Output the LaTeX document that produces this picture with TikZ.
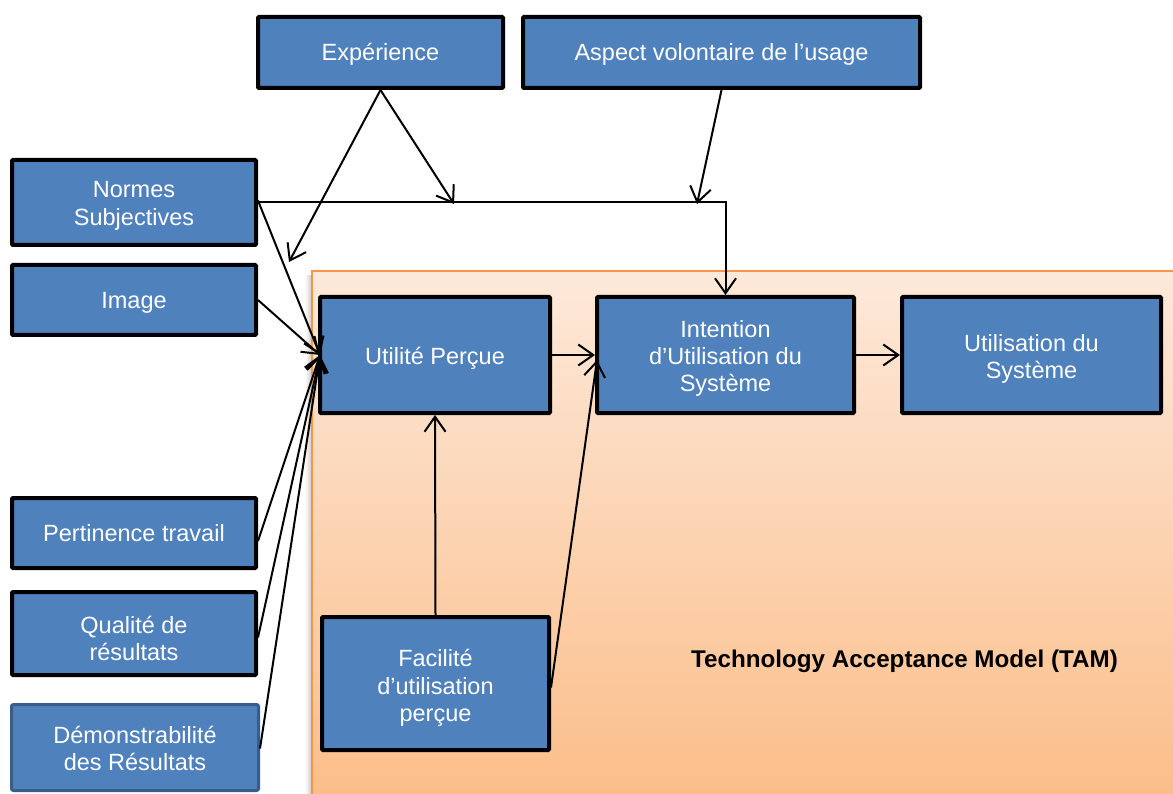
\documentclass[tikz,border=0pt]{standalone}
\usepackage{fontspec}
\setmainfont{Liberation Sans}
\usetikzlibrary{arrows.meta}
\definecolor{boxblue}{HTML}{4F81BD}
\definecolor{boxedge}{HTML}{385D8A}
\definecolor{tamedge}{HTML}{F79646}
\definecolor{tamtop}{HTML}{FDE9DA}
\definecolor{tambottom}{HTML}{FBBD88}
% strut for the first line of a label: the extra height lowers the label by half of it
\newcommand\lnstrut[1]{\rule{0pt}{\dimexpr21.3pt+#1\relax}}
\tikzset{
  box/.style={draw=black, line width=4pt, fill=boxblue, rounded corners=1pt,
    text=white, align=center, inner sep=0pt,
    font=\fontsize{23.5}{27.3}\selectfont,
    execute at begin node={\rule{0pt}{21.3pt}},
    execute at end node={\rule[-5pt]{0pt}{5pt}}},
  softbox/.style={box, draw=boxedge, line width=3pt, rounded corners=2pt},
  link/.style={line width=2pt, -{Straight Barb[length=15pt,width=21pt,line width=2pt]}}
}
\begin{document}
\begin{tikzpicture}[x=1pt,y=-1pt]
\useasboundingbox (0,0) rectangle (1173,794);
\fill[white] (0,0) rectangle (1173,794);

% TAM frame with soft shadow on its left edge
\fill[left color=white, right color=black!22] (305,276) rectangle (312,800);
\shade[top color=tamtop, bottom color=tambottom, draw=tamedge, line width=2pt]
  (312,271) rectangle (1185,805);
\node[font=\bfseries\fontsize{24.2}{28}\selectfont, anchor=base] (tam) at (904.5,667)
  {Technology Acceptance Model (TAM)};

% external factors
\node[box, minimum width=245pt, minimum height=71pt] (exp) at (380.5,52.5) {Expérience};
\node[box, minimum width=397pt, minimum height=71pt] (vol) at (721.5,52.5) {Aspect volontaire de l’usage};
\node[box, minimum width=244pt, minimum height=85pt] (norm) at (134,202.5) {\lnstrut{2pt}Normes\\Subjectives};
\node[box, minimum width=244pt, minimum height=70pt] (img) at (134,300) {Image};
\node[box, minimum width=244pt, minimum height=70pt] (pert) at (134,533) {Pertinence travail};
\node[box, minimum width=244pt, minimum height=83pt] (qual) at (134,633.5) {\lnstrut{11pt}Qualité de\\résultats};
\node[softbox, minimum width=247pt, minimum height=86pt] (demo) at (135,747.5) {\lnstrut{2pt}Démonstrabilité\\des Résultats};

% TAM core
\node[box, minimum width=230pt, minimum height=116pt] (util) at (435,355) {\lnstrut{3pt}Utilité Perçue};
\node[box, minimum width=257pt, minimum height=116pt] (int) at (725.5,355) {\lnstrut{3pt}Intention\\d’Utilisation du\\Système};
\node[box, minimum width=259pt, minimum height=116pt] (use) at (1031.5,355) {\lnstrut{4pt}Utilisation du\\Système};
\node[box, minimum width=227pt, minimum height=133pt] (fac) at (435.5,683.5) {\lnstrut{5pt}Facilité\\d’utilisation\\perçue};

% points where moderators meet other links
\coordinate (m1) at (454,204);
\coordinate (m2) at (289,262);
\coordinate (m3) at (697,204);
\coordinate (utin) at (320,355);
\coordinate (intin) at (597,360);

% moderators
\draw[link] (exp.south) -- (m1);
\draw[link] (exp.south) -- (m2);
\draw[link] (vol.south) -- (m3);

% Normes Subjectives towards Intention
\draw[link] ([yshift=0.5pt]norm.east) -| (int.north);

% determinants of perceived usefulness
\draw[link] ([yshift=2pt]norm.east) -- (utin);
\draw[link] (img.east) -- (utin);
\draw[link] ([yshift=-8pt]pert.east) -- (utin);
\draw[link] ([yshift=-4pt]qual.east) -- (utin);
\draw[link] ([yshift=-1pt]demo.east) -- (utin);

% TAM links
\draw[link] (util.east) -- (int.west);
\draw[link] (fac.north) -- (util.south);
\draw[link] ([yshift=-4pt]fac.east) -- (intin);
\draw[link] (int.east) -- (use.west);
\end{tikzpicture}
\end{document}
